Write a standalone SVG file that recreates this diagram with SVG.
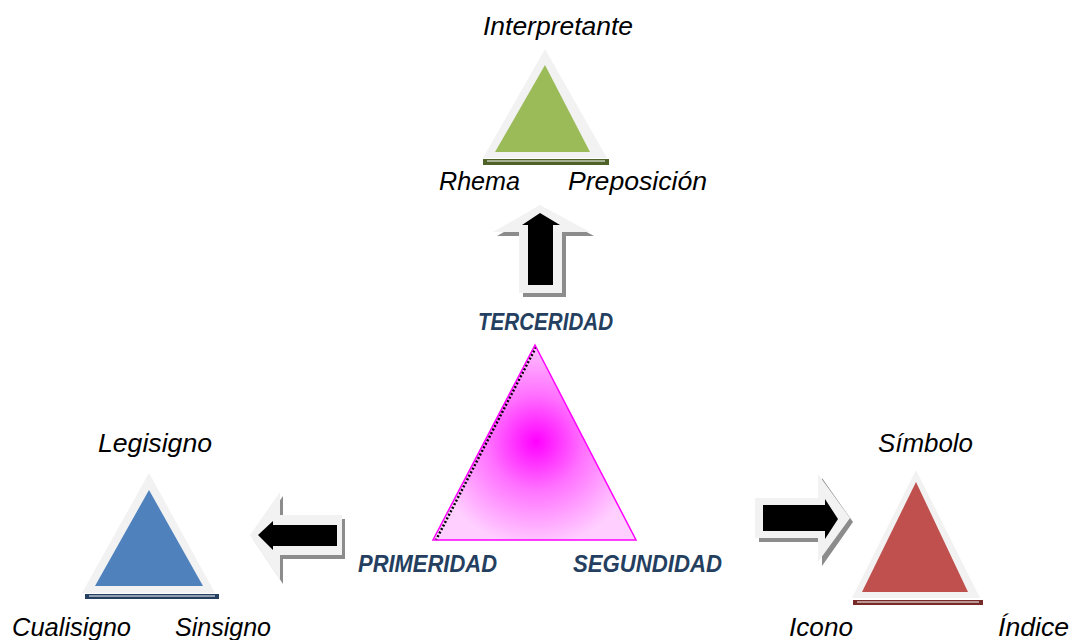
<svg xmlns="http://www.w3.org/2000/svg" width="1073" height="640" viewBox="0 0 1073 640">
<defs>
<radialGradient id="pink" gradientUnits="userSpaceOnUse" cx="536" cy="442" r="105">
<stop offset="0" stop-color="#ff00ff"/>
<stop offset="0.45" stop-color="#ff70ff"/>
<stop offset="1" stop-color="#ffd0ff"/>
</radialGradient>
<style>
.lbl{font-family:"Liberation Sans",Arial,sans-serif;font-style:italic;font-size:26px;fill:#000}
.dim{font-family:"Liberation Sans",Arial,sans-serif;font-style:italic;font-weight:bold;font-size:23px;fill:#243f60}
.rim{fill:#f2f2f2}
.sh{fill:#8c8c8c}
.blk{fill:#000}
</style>
</defs>
<rect width="1073" height="640" fill="#fff"/>

<g id="interpretante">
<rect x="483" y="159" width="126" height="6" fill="#4f6228"/>
<line x1="487" y1="161" x2="605" y2="161" stroke="#fff" stroke-width="1"/>
<polygon class="rim" points="545,49 607,158 483,158"/>
<polygon points="545,65 590,152 495,152" fill="#9bbb59"/>
<text class="lbl" x="483" y="35" textLength="150" lengthAdjust="spacingAndGlyphs">Interpretante</text>
<text class="lbl" x="439" y="190" textLength="81" lengthAdjust="spacingAndGlyphs">Rhema</text>
<text class="lbl" x="568" y="190" textLength="139" lengthAdjust="spacingAndGlyphs">Preposición</text>
</g>

<g id="primeridad-tri">
<rect x="85" y="594" width="134" height="5" fill="#243f60"/>
<line x1="89" y1="596" x2="215" y2="596" stroke="#fff" stroke-width="1"/>
<polygon class="rim" points="149,473 215,593 82,593"/>
<polygon points="149,490 203,586 95,586" fill="#4f81bd"/>
<text class="lbl" x="98" y="452" textLength="114" lengthAdjust="spacingAndGlyphs">Legisigno</text>
<text class="lbl" x="12" y="636" textLength="119" lengthAdjust="spacingAndGlyphs">Cualisigno</text>
<text class="lbl" x="175" y="636" textLength="96" lengthAdjust="spacingAndGlyphs">Sinsigno</text>
</g>

<g id="segundidad-tri">
<rect x="853" y="600" width="130" height="5" fill="#772c2a"/>
<line x1="857" y1="602" x2="979" y2="602" stroke="#fff" stroke-width="1"/>
<polygon class="rim" points="916,470 980,598 852,598"/>
<polygon points="916,482 968,592 862,592" fill="#c0504d"/>
<text class="lbl" x="878" y="452" textLength="95" lengthAdjust="spacingAndGlyphs">Símbolo</text>
<text class="lbl" x="789" y="636" textLength="64" lengthAdjust="spacingAndGlyphs">Icono</text>
<text class="lbl" x="998" y="636" textLength="71" lengthAdjust="spacingAndGlyphs">Índice</text>
</g>

<g id="centro">
<polygon points="535,345 636,540 433,540" fill="url(#pink)"/>
<line x1="536" y1="347" x2="436" y2="540" stroke="#000" stroke-width="2.5" stroke-dasharray="2 2"/>
<polygon points="535,345 636,540 433,540" fill="none" stroke="#ff00ff" stroke-width="1.5"/>
<text class="dim" x="478" y="330" textLength="135" lengthAdjust="spacingAndGlyphs">TERCERIDAD</text>
<text class="dim" x="358" y="572" textLength="139" lengthAdjust="spacingAndGlyphs">PRIMERIDAD</text>
<text class="dim" x="573" y="572" textLength="149" lengthAdjust="spacingAndGlyphs">SEGUNDIDAD</text>
</g>

<g id="connectors">
<g id="arrow-up">
<polygon class="sh" points="544,209 594,236 566,236 566,297 523,297 523,236 497,236"/>
<polygon class="rim" points="540,205 590,232 562,232 562,293 519,293 519,232 493,232"/>
<polygon class="blk" points="540,213 560,225 553,225 553,285 528,285 528,225 522,225"/>
</g>
<g id="arrow-left">
<polygon class="sh" points="253,539 283,496 283,519 345,519 345,559 283,559 283,584"/>
<polygon class="rim" points="250,535 280,492 280,515 342,515 342,555 280,555 280,580"/>
<polygon class="blk" points="258,535 273,521 273,525 337,525 337,546 273,546 273,550"/>
</g>
<g id="arrow-right">
<polygon class="sh" points="759,502 822,502 822,478 853,522 822,566 822,542 759,542"/>
<polygon class="rim" points="755,498 818,498 818,474 850,518 818,562 818,538 755,538"/>
<polygon class="blk" points="763,505 825,505 825,499 838,519 825,539 825,531 763,531"/>
</g>
</g>
</svg>
